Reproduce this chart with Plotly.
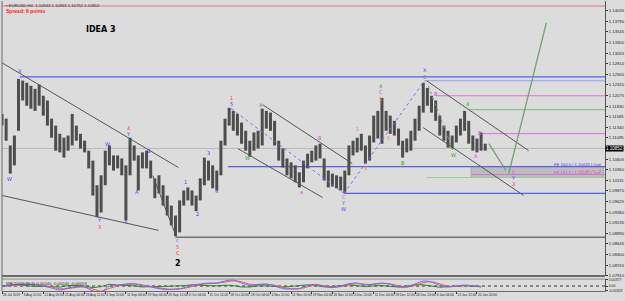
import plotly.graph_objects as go

# ---------------- data ----------------
# one bar per trading day (high / low), EURUSD H4 chart compressed
day_high = [1.1165,1.1154,1.1092,1.1115,1.1246,1.1242,1.1237,1.1230,1.1223,1.1233,
            1.1207,1.1196,1.1154,1.1138,1.1119,1.1110,1.1115,1.1165,1.1138,1.1119,
            1.1103,1.1080,1.1057,1.1000,1.1023,1.1080,1.1092,1.1069,1.1069,1.1062,
            1.1046,1.1110,1.1092,1.1069,1.1076,1.1080,1.1057,1.1016,1.1023,1.1000,
            1.0976,1.0953,1.0930,1.0965,1.0988,1.0995,1.0988,1.0976,1.1016,1.1064,
            1.1057,1.1046,1.1034,1.1103,1.1154,1.1179,1.1172,1.1165,1.1145,1.1126,
            1.1103,1.1122,1.1126,1.1177,1.1172,1.1168,1.1149,1.1103,1.1085,1.1062,
            1.1053,1.1046,1.1030,1.1057,1.1073,1.1080,1.1092,1.1096,1.1062,1.1034,
            1.1027,1.1023,1.1020,1.1034,1.1092,1.1103,1.1110,1.1119,1.1092,1.1115,
            1.1161,1.1172,1.1202,1.1172,1.1161,1.1149,1.1131,1.1103,1.1108,1.1126,
            1.1154,1.1184,1.1237,1.1225,1.1207,1.1196,1.1161,1.1138,1.1126,1.1115,
            1.1138,1.1154,1.1172,1.1149,1.1115,1.1108,1.1122,1.1096]
day_low = [1.1138,1.1103,1.1027,1.1046,1.1126,1.1196,1.1184,1.1177,1.1172,1.1184,
           1.1161,1.1138,1.1110,1.1080,1.1076,1.1064,1.1080,1.1092,1.1103,1.1085,
           1.1076,1.1039,1.0976,1.0926,1.0937,1.1000,1.1046,1.1034,1.1039,1.1023,
           1.0919,1.1023,1.1057,1.0988,1.1039,1.1039,1.1016,1.0970,1.0981,1.0953,
           1.0930,1.0907,1.0882,1.0891,1.0953,1.0965,1.0953,1.0940,1.0965,1.1000,
           1.1011,1.0993,1.0988,1.1023,1.1092,1.1138,1.1126,1.1115,1.1096,1.1080,
           1.1066,1.1080,1.1085,1.1092,1.1131,1.1126,1.1092,1.1057,1.1041,1.1023,
           1.1016,1.1007,1.0995,1.1007,1.1039,1.1053,1.1057,1.1062,1.1011,1.0995,
           1.0997,1.0993,1.0988,1.0983,1.1023,1.1069,1.1076,1.1080,1.1050,1.1057,
           1.1099,1.1108,1.1096,1.1126,1.1119,1.1115,1.1092,1.1064,1.1076,1.1080,
           1.1103,1.1126,1.1168,1.1184,1.1168,1.1149,1.1115,1.1103,1.1087,1.1085,
           1.1099,1.1115,1.1126,1.1096,1.1080,1.1076,1.1080,1.1080]

date_labels = ["26 Jul 2019","6 Aug 12:00","12 Aug 20:00","21 Aug 04:00","28 Aug 12:00",
               "4 Sep 20:00","11 Sep 04:00","19 Sep 04:00","26 Sep 12:00","4 Oct 04:00",
               "11 Oct 12:00","18 Oct 20:00","28 Oct 04:00","4 Nov 12:00","11 Nov 20:00",
               "19 Nov 04:00","26 Nov 12:00","3 Dec 20:00","11 Dec 04:00","18 Dec 12:00",
               "26 Dec 20:00","6 Jan 04:00","13 Jan 12:00","20 Jan 20:00"]
date_label_days = [0,5,10,15,20,25,30,35,40,45,50,55,60,65,70,75,80,85,90,95,100,105,110,115]

price_labels = [1.14035,1.13790,1.13545,1.13300,1.13055,1.12810,1.12565,1.12320,1.12075,
                1.11830,1.11585,1.11340,1.11095,1.10605,1.10360,1.10115,1.09870,1.09625,
                1.09380,1.09135,1.08890,1.08645,1.08400,1.08155,1.07910]
current_price = 1.10852

# MACD panel, one value every two days
macd_main = [0.0,0.0003,0.001,0.001,0.0005,0.0,-0.001,-0.002,-0.001,-0.0003,
             -0.0005,-0.0025,-0.003,0.0,0.0005,0.001,0.0012,0.0,-0.0005,-0.0013,
             -0.0018,-0.0015,-0.001,0.0005,0.001,0.0015,0.0015,0.0025,0.003,0.0015,
             0.0003,0.0008,0.001,0.0,-0.0013,-0.0015,-0.0013,0.0003,0.0008,-0.0003,
             -0.0008,0.0,0.0012,0.0015,0.0005,0.001,0.0015,0.0008,-0.0005,-0.0005,
             0.001,0.0025,0.002,0.0003,-0.0005,0.0,0.0005,0.0,-0.0005]
macd_signal = [0.0,0.0001,0.0005,0.0009,0.0008,0.0003,-0.0004,-0.0014,-0.0013,-0.0007,
               -0.0005,-0.0015,-0.0026,-0.0012,0.0,0.0007,0.0010,0.0006,-0.0002,-0.0009,
               -0.0015,-0.0016,-0.0012,-0.0002,0.0007,0.0012,0.0014,0.0020,0.0026,0.0021,
               0.0009,0.0006,0.0009,0.0004,-0.0007,-0.0013,-0.0014,-0.0004,0.0005,0.0002,
               -0.0005,-0.0003,0.0006,0.0012,0.0009,0.0008,0.0012,0.0011,0.0001,-0.0005,
               0.0003,0.0017,0.0021,0.0011,-0.0001,-0.0002,0.0002,0.0002,-0.0003]
macd_osma = [0.0,0.0002,0.0007,0.0002,-0.0002,-0.0002,-0.0004,-0.0005,0.0002,0.0003,
             0.0,-0.0008,-0.0003,0.0009,0.0004,0.0002,0.0001,-0.0005,-0.0002,-0.0003,
             -0.0002,0.0001,0.0002,0.0006,0.0003,0.0002,0.0001,0.0004,0.0003,-0.0005,
             -0.0005,0.0001,0.0001,-0.0003,-0.0005,-0.0002,0.0001,0.0006,0.0002,-0.0004,
             -0.0002,0.0002,0.0005,0.0002,-0.0003,0.0001,0.0002,-0.0002,-0.0005,0.0,
             0.0006,0.0006,0.0,-0.0006,-0.0003,0.0001,0.0002,-0.0001,-0.0002]

X_END = 146.0
Y_TOP = 1.14261
Y_BOT = 1.07900
FONT = "Liberation Sans"

# ---------------- figure ----------------
fig = go.Figure()

xs, ys = [], []
for d, (h, l) in enumerate(zip(day_high, day_low)):
    xs += [d, d, None]
    ys += [l, h, None]
fig.add_trace(go.Scatter(x=xs, y=ys, mode="lines", line=dict(color="#4d4d4d", width=3.0),
                         hoverinfo="skip", yaxis="y"))

# MACD panel
def mdays(vals):
    return [2 * i for i in range(len(vals))]

fig.add_trace(go.Scatter(x=[0, X_END], y=[0, 0], mode="lines", yaxis="y2",
                         line=dict(color="#333333", width=1, dash="dot"), hoverinfo="skip"))
fig.add_trace(go.Scatter(x=mdays(macd_osma), y=macd_osma, mode="lines", yaxis="y2",
                         line=dict(color="#1f8f1f", width=1), hoverinfo="skip"))
fig.add_trace(go.Scatter(x=mdays(macd_signal), y=macd_signal, mode="lines", yaxis="y2",
                         line=dict(color="#ff5050", width=1, shape="spline"), hoverinfo="skip"))
fig.add_trace(go.Scatter(x=mdays(macd_main), y=macd_main, mode="lines", yaxis="y2",
                         line=dict(color="#6a6aff", width=1, shape="spline"), hoverinfo="skip"))

shapes = []

def hline(price, x0, color, width=1, dash="solid"):
    shapes.append(dict(type="line", xref="x", yref="y", x0=x0, x1=X_END, y0=price, y1=price,
                       line=dict(color=color, width=width, dash=dash), layer="below"))

def seg(x0, y0, x1, y1, color, width=1, dash="solid"):
    shapes.append(dict(type="line", xref="x", yref="y", x0=x0, x1=x1, y0=y0, y1=y1,
                       line=dict(color=color, width=width, dash=dash)))

# target zone box
shapes.append(dict(type="rect", xref="x", yref="y", x0=113.6, x1=145.6, y0=1.10179, y1=1.10433,
                   fillcolor="#bdbdbd", line=dict(color="#a8a8a8", width=1), layer="below"))

hline(1.14146, 0, "#e07878", 1)
hline(current_price, 0, "#b9b9b9", 1)
hline(1.12508, 4.3, "#5a5af0", 1.2)
hline(1.12416, 102.3, "#9a9af5", 1)
hline(1.12070, 105.2, "#e070e0", 1)
hline(1.11747, 112.8, "#8fbf8f", 1.2)
hline(1.11194, 115.7, "#e070e0", 1)
hline(1.10433, 54.7, "#5a5af0", 1.2)
hline(1.10249, 113.6, "#e070e0", 1)
hline(1.10179, 102.8, "#9ccc9c", 1.2)
hline(1.09810, 82.8, "#5a5af0", 1.2)
hline(1.08796, 42.0, "#707070", 1.5)

# trend lines / channels
seg(0, 1.12831, 42.7, 1.10410, "#555555")
seg(0, 1.09764, 37.9, 1.08957, "#555555")
seg(36.5, 1.10225, 41.8, 1.08911, "#555555")
seg(63.1, 1.11863, 84.8, 1.10502, "#555555")
seg(57.1, 1.10848, 77.6, 1.09718, "#555555")
seg(55.5, 1.11771, 82.8, 1.09810, "#7070f0", 1, "dot")
seg(82.8, 1.09810, 102.3, 1.12416, "#7070f0", 1, "dot")
seg(103.2, 1.12301, 109.2, 1.10802, "#70a070", 1, "dot")
seg(102.8, 1.12416, 127.5, 1.10802, "#555555")
seg(102.0, 1.11332, 126.3, 1.09764, "#555555")
seg(117.9, 1.10963, 122.0, 1.10341, "#6f9a6f", 1.2)
seg(122.7, 1.10272, 131.8, 1.13754, "#6f9a6f", 1.2)
seg(140.0, 1.10340, 145.6, 1.10340, "#ff9040", 1, "dot")

# panel borders
shapes.append(dict(type="line", xref="paper", yref="y domain", x0=0, x1=1, y0=0, y1=0,
                   line=dict(color="#6a6a6a", width=2)))
shapes.append(dict(type="line", xref="paper", yref="y2 domain", x0=0, x1=1, y0=1, y1=1,
                   line=dict(color="#8a8a8a", width=1)))
shapes.append(dict(type="line", xref="paper", yref="paper", x0=0, x1=0, y0=0, y1=1,
                   line=dict(color="#6a6a6a", width=1)))

annotations = []

def lab(text, d, p, color, size=5, bold=False):
    annotations.append(dict(x=d, y=p, xref="x", yref="y", text=("<b>%s</b>" % text) if bold else text,
                            showarrow=False, borderpad=0,
                            font=dict(size=size, color=color, family="DejaVu Sans")))

BL, RD, PK, GR, OR = "#3c3cff", "#ff3030", "#e040e0", "#2e9e2e", "#ff7a3a"
S = 0.0015  # stacking step between labels
lab("X", 4.3, 1.12647, BL)
lab("W", 1.9, 1.10156, BL)
lab("W", 25.5, 1.10963, BL)
lab("Y", 23.5, 1.09188, BL); lab("3", 23.5, 1.09188 - S, RD)
lab("4", 30.7, 1.11332, RD); lab("Y", 30.7, 1.11332 - S, BL)
lab("X", 30.0, 1.09165, BL)
lab("A", 32.7, 1.09833, BL)
lab("B", 35.5, 1.10802, BL)
lab("1", 44.4, 1.10064, BL)
lab("3", 49.9, 1.10756, BL)
lab("2", 47.3, 1.09326, BL)
lab("4", 51.9, 1.09856, BL)
lab("c", 42.5, 1.08726, BL); lab("5", 42.5, 1.08726 - S, RD); lab("C", 42.5, 1.08726 - 2 * S, RD)
lab("2", 42.5, 1.08180, "#000000", 8, True)
lab("1", 55.5, 1.12024, RD); lab("5", 55.5, 1.12024 - S, BL)
lab("X", 62.7, 1.11863, GR)
lab("W", 59.5, 1.10641, GR)
lab("B", 77.1, 1.11102, PK)
lab("a", 72.5, 1.09833, PK)
lab("C", 82.8, 1.09740, PK); lab("Y", 82.8, 1.09740 - S, GR); lab("W", 82.8, 1.09740 - 2 * S, BL)
lab("4", 91.7, 1.12300, GR); lab("C", 91.7, 1.12300 - S, PK); lab("5", 91.7, 1.12300 - 2 * S, OR)
lab("B", 97.2, 1.10525, GR)
lab("X", 102.5, 1.12660, BL); lab("C", 102.5, 1.12660 - S, GR)
lab("B", 105.2, 1.12116, PK)
lab("4", 112.8, 1.11886, GR)
lab("W", 109.2, 1.10710, GR)
lab("A", 114.8, 1.10687, PK)
lab("B", 115.7, 1.11217, PK)
lab("C", 123.9, 1.10318, PK); lab("Y", 123.9, 1.10318 - S, BL); lab("3", 123.9, 1.10318 - 2 * S, RD)
lab("3", 88.0, 1.10400, OR); lab("1", 86.0, 1.11300, OR); lab("5", 93.5, 1.11100, OR)

# right side Fibonacci texts
annotations.append(dict(x=145.6, y=1.10480, xref="x", yref="y", xanchor="right", showarrow=False,
                        text="FE 100.0 | 1.10433 | Cod", font=dict(size=4.2, color="#3c3cff", family=FONT)))
annotations.append(dict(x=145.6, y=1.10290, xref="x", yref="y", xanchor="right", showarrow=False,
                        text="FE 161.8 | 1.10249 | Cod", font=dict(size=4.2, color="#e040e0", family=FONT)))

# big texts
annotations.append(dict(x=24.0, y=1.13600, xref="x", yref="y", showarrow=False,
                        text="<b>IDEA 3</b>", font=dict(size=8, color="#000000", family="DejaVu Sans")))
annotations.append(dict(x=0.004, y=1.0, xref="paper", yref="paper", xanchor="left", yanchor="top",
                        showarrow=False, text="\u25aa EURUSD,H4  1.10943 1.10963 1.10752 1.10852",
                        font=dict(size=4.2, color="#333333", family=FONT)))
annotations.append(dict(x=0.004, y=0.982, xref="paper", yref="paper", xanchor="left", yanchor="top",
                        showarrow=False, text="<b>Spread: 6 points</b>",
                        font=dict(size=5, color="#ff2020", family=FONT)))
annotations.append(dict(x=0.004, y=1.0, xref="paper", yref="y2 domain", xanchor="left", yanchor="top",
                        showarrow=False, text="MACD(12,26,9) 0.00040 -0.00040 -0.00059",
                        font=dict(size=4.2, color="#333333", family=FONT)))
# current price box
annotations.append(dict(x=1.0, y=current_price, xref="paper", yref="y", xanchor="left", showarrow=False,
                        text="1.10852", bgcolor="#000000", borderpad=0,
                        font=dict(size=4.5, color="#ffffff", family=FONT)))

fig.update_layout(
    width=625, height=301,
    margin=dict(l=2, r=15, t=0, b=10),
    paper_bgcolor="#dcdcdc", plot_bgcolor="#dcdcdc",
    showlegend=False,
    shapes=shapes, annotations=annotations,
    font=dict(family=FONT, size=5, color="#222222"),
    xaxis=dict(range=[0, X_END], anchor="y2", tickvals=date_label_days, ticktext=date_labels,
               tickangle=0, ticks="outside", ticklen=2, tickcolor="#333333",
               ticklabelposition="outside right",
               tickfont=dict(size=3.3, color="#222222", family=FONT), showgrid=False, zeroline=False,
               showline=True, linecolor="#6a6a6a"),
    yaxis=dict(domain=[0.0515, 1], range=[Y_BOT, Y_TOP], side="right",
               tickvals=price_labels, ticktext=["%.5f" % v for v in price_labels],
               ticks="outside", ticklen=2, tickcolor="#333333",
               tickfont=dict(size=4.2, color="#222222", family=FONT), showgrid=False, zeroline=False,
               showline=True, linecolor="#555555"),
    yaxis2=dict(domain=[0, 0.0412], range=[-0.0025, 0.0035], side="right",
                tickvals=[0.0032, 0, -0.0022], ticktext=["0.00377", "0.00", "-0.00359"],
                ticks="outside", ticklen=2, tickcolor="#333333",
                tickfont=dict(size=3.5, color="#222222", family=FONT), showgrid=False, zeroline=False,
                showline=True, linecolor="#555555"),
)

fig.write_html("out.html")
